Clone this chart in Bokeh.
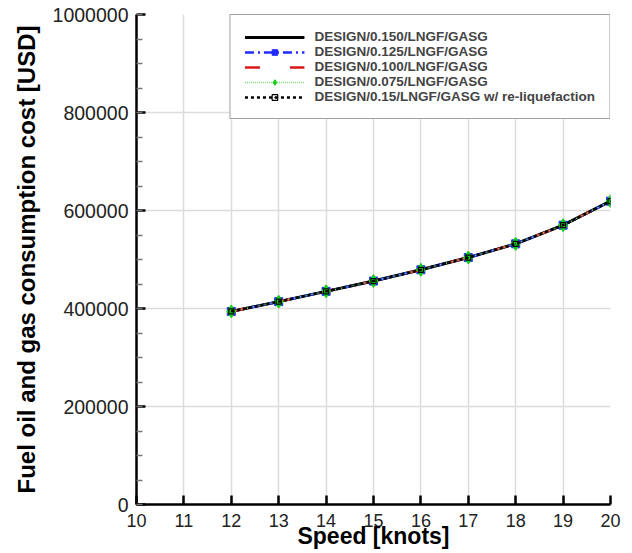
from bokeh.plotting import figure
from bokeh.embed import file_html
from bokeh.resources import INLINE
from bokeh.models import ColumnDataSource, FixedTicker, BasicTickFormatter, Legend, LegendItem

speed = [12, 13, 14, 15, 16, 17, 18, 19, 20]
cost_0150 = [394000, 414000, 435000, 456000, 479000, 504000, 532000, 570000, 619000]
cost_0125 = [394000, 414000, 435000, 456000, 479000, 504000, 532000, 570000, 619000]
cost_0100 = [394000, 414000, 435000, 456000, 479000, 504000, 532000, 570000, 619000]
cost_0075 = [394000, 414000, 435000, 456000, 479000, 504000, 532000, 570000, 619000]
cost_015_reliq = [394000, 414000, 435000, 456000, 479000, 504000, 532000, 570000, 619000]

labels = [
    "DESIGN/0.150/LNGF/GASG",
    "DESIGN/0.125/LNGF/GASG",
    "DESIGN/0.100/LNGF/GASG",
    "DESIGN/0.075/LNGF/GASG",
    "DESIGN/0.15/LNGF/GASG w/ re-liquefaction",
]
x_ticks = list(range(10, 21))
y_ticks = [0, 200000, 400000, 600000, 800000, 1000000]

W, H = 628, 551
p = figure(width=W, height=H, output_backend="svg", toolbar_location=None,
           x_range=(10, 20), y_range=(0, 1000000),
           min_border_left=136, min_border_right=W - 610, min_border_top=14,
           min_border_bottom=H - 505)
p.outline_line_color = None
p.background_fill_color = "white"

font = "Liberation Sans"
for ax in (p.xaxis[0], p.yaxis[0]):
    ax.axis_line_width = 2.5
    ax.axis_line_color = "black"
    ax.major_tick_in = 9
    ax.major_tick_out = 0
    ax.major_tick_line_width = 2.5
    ax.major_tick_line_color = "black"
    ax.major_label_text_font = font
    ax.major_label_text_color = "#222222"
    ax.axis_label_text_font = font
    ax.axis_label_text_font_style = "bold"
    ax.axis_label_text_color = "black"

p.xaxis.ticker = FixedTicker(ticks=x_ticks)
p.xaxis.minor_tick_line_color = None
p.xaxis.major_label_text_font_size = "18px"
p.xaxis.major_label_standoff = 9
p.xaxis.axis_label = "Speed [knots]"
p.xaxis.axis_label_text_font_size = "23px"
p.xaxis.axis_label_standoff = -7

p.yaxis.ticker = FixedTicker(ticks=y_ticks, minor_ticks=list(range(0, 1000001, 50000)))
p.yaxis.minor_tick_in = 6
p.yaxis.minor_tick_out = 0
p.yaxis.minor_tick_line_color = "#777777"
p.yaxis.minor_tick_line_width = 1.5
p.yaxis.formatter = BasicTickFormatter(use_scientific=False)
p.yaxis.major_label_text_font_size = "19.5px"
p.yaxis.major_label_standoff = 8
p.yaxis.axis_label = "Fuel oil and gas consumption cost [USD]"
p.yaxis.axis_label_text_font_size = "24px"
p.yaxis.axis_label_standoff = 10

p.xgrid.ticker = FixedTicker(ticks=x_ticks)
p.ygrid.ticker = FixedTicker(ticks=y_ticks)
p.grid.grid_line_color = "#dcdcdc"
p.grid.grid_line_width = 1.5

src1 = ColumnDataSource(dict(x=speed, y=cost_0150))
src2 = ColumnDataSource(dict(x=speed, y=cost_0125))
src3 = ColumnDataSource(dict(x=speed, y=cost_0100))
src4 = ColumnDataSource(dict(x=speed, y=cost_0075))
src5 = ColumnDataSource(dict(x=speed, y=cost_015_reliq))

l1 = p.line("x", "y", source=src1, line_color="black", line_width=3)
l2 = p.line("x", "y", source=src2, line_color="#1f2bff", line_width=2.5, line_dash="9 4 2 4")
m2 = p.scatter("x", "y", source=src2, marker="square", size=8, fill_color="#1f2bff", line_color="#1f2bff")
l3 = p.line("x", "y", source=src3, line_color="#d81818", line_width=2.5, line_dash="15 30")
m3 = p.scatter("x", "y", source=src3, marker="circle_dash", size=12, fill_color="white", line_color="#d81818", line_width=1.5)
l4 = p.line("x", "y", source=src4, line_color="#7be07b", line_width=1.5, line_dash="1 1")
m4 = p.scatter("x", "y", source=src4, marker="diamond", size=13, fill_color="#12d012", line_color="#12d012")
l5 = p.line("x", "y", source=src5, line_color="black", line_width=2.5, line_dash="3 3")
m5 = p.scatter("x", "y", source=src5, marker="square_dot", size=5, fill_color=None, line_color="black", line_width=1.2)

legend = Legend(items=[
    LegendItem(label=labels[0], renderers=[l1]),
    LegendItem(label=labels[1], renderers=[l2, m2]),
    LegendItem(label=labels[2], renderers=[l3, m3]),
    LegendItem(label=labels[3], renderers=[l4, m4]),
    LegendItem(label=labels[4], renderers=[l5, m5]),
], location="top_right")
legend.margin = 0
legend.padding = 14
legend.spacing = 0
legend.glyph_width = 60
legend.glyph_height = 14
legend.label_height = 14
legend.label_standoff = 10
legend.label_text_font = font
legend.label_text_font_style = "bold"
legend.label_text_font_size = "13.5px"
legend.label_text_baseline = "middle"
legend.border_line_color = "#444444"
legend.border_line_width = 1.5
legend.background_fill_alpha = 1
p.add_layout(legend, "center")

open("out.html", "w").write(file_html(p, INLINE))
